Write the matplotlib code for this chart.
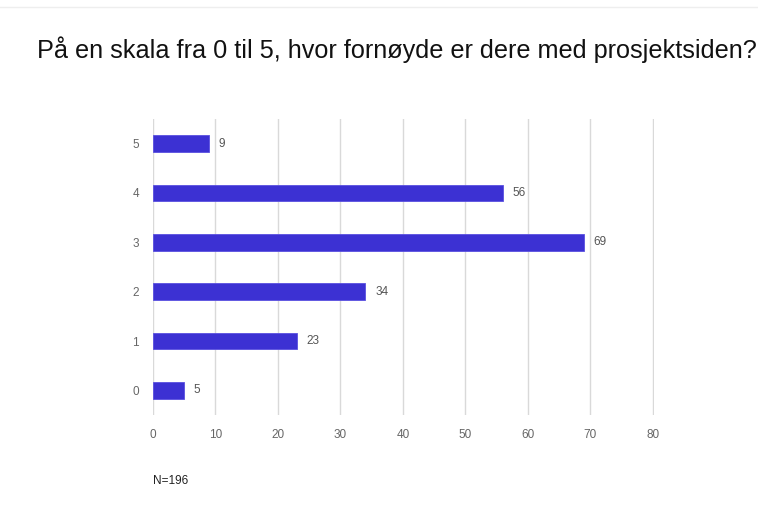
import matplotlib

matplotlib.use("Agg")
import matplotlib.pyplot as plt

# survey answers, score 0-5
categories = ["0", "1", "2", "3", "4", "5"]
counts = [5, 23, 34, 69, 56, 9]
x_ticks = [0, 10, 20, 30, 40, 50, 60, 70, 80]
title = "På en skala fra 0 til 5, hvor fornøyde er dere med prosjektsiden?"
note = "N=196"

plt.rcParams["font.family"] = ["Liberation Sans", "DejaVu Sans"]

fig = plt.figure(figsize=(7.58, 5.2), dpi=100)
ax = fig.add_axes([0.2018, 0.2019, 0.661, 0.5693])

ypos = list(range(len(categories)))
ax.barh(ypos, counts, height=0.34, color="#3c31d3", edgecolor="#5a50e0", linewidth=0.6, zorder=3)
for y, v in zip(ypos, counts):
    ax.annotate(str(v), (v, y), xytext=(7, 0), textcoords="offset points",
                va="center", ha="left", fontsize=8.5, color="#555555")

ax.set_xlim(0, 80.2)
ax.set_ylim(-0.5, 5.5)
ax.set_xticks(x_ticks)
ax.set_yticks(ypos)
ax.set_yticklabels(categories)
ax.tick_params(length=0, labelsize=8.5, colors="#666666")
ax.tick_params(axis="x", pad=10)
ax.tick_params(axis="y", pad=10)
ax.grid(axis="x", color="#d9d9d9", linewidth=1, zorder=0)
for s in ax.spines.values():
    s.set_visible(False)

fig.text(37 / 758, 1 - 50 / 520, title, fontsize=18.2, color="#111111", va="center", ha="left")
fig.text(153 / 758, 1 - 481 / 520, note, fontsize=8.5, color="#222222", va="center", ha="left")

# faint frame line at the top, from the screenshot
fig.add_artist(plt.Line2D([0, 1], [1 - 7 / 520] * 2, color="#eeeeee", linewidth=1))

fig.savefig("out.png", dpi=100)
